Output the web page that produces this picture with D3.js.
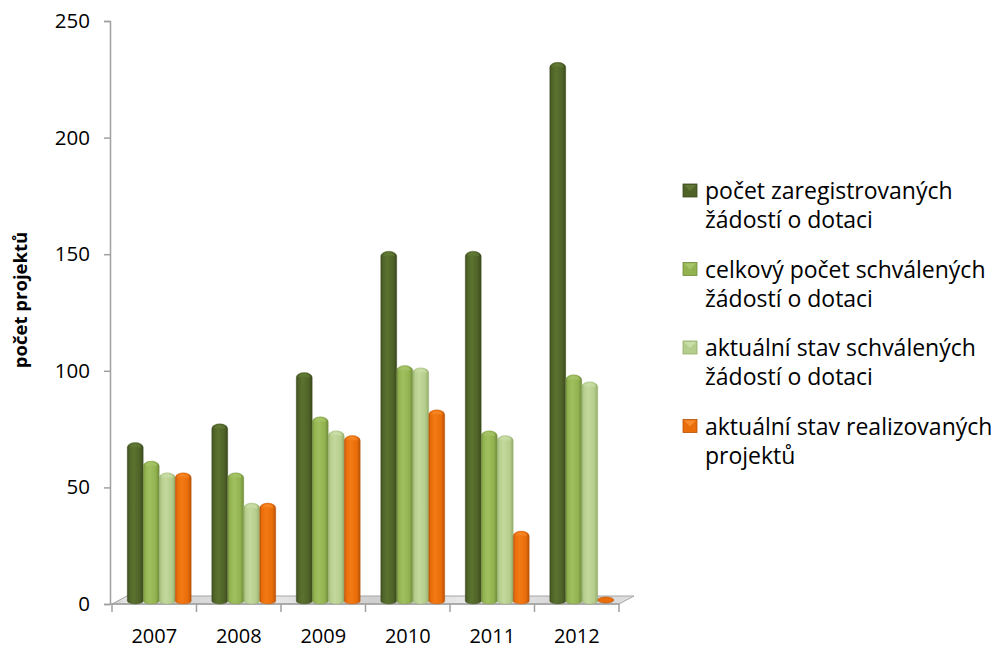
<!DOCTYPE html>
<html lang="cs">
<head>
  <meta charset="utf-8">
  <title>počet projektů</title>
  <style>
  html, body {padding: 0; margin: 0; overflow: hidden; background: #fff}
  text {font-family: "Open Sans", Lato, sans-serif; fill: #000}
</style>
</head>
<body>
  <svg width="1000" height="650"></svg>
  <script src="https://cdn.jsdelivr.net/npm/d3@7/dist/d3.min.js"></script>
  <script>

  var years = ["2007", "2008", "2009", "2010", "2011", "2012"];
  var seriesNames = [
    ["počet zaregistrovaných", "žádostí o dotaci"],
    ["celkový počet schválených", "žádostí o dotaci"],
    ["aktuální stav schválených", "žádostí o dotaci"],
    ["aktuální stav realizovaných", "projektů"]
  ];
  var registered = [68, 76, 98, 150, 150, 231];
  var approvedTotal = [60, 55, 79, 101, 73, 97];
  var approvedNow = [55, 42, 73, 100, 71, 94];
  var realized = [55, 42, 71, 82, 30, 0];
  var yTicks = [0, 50, 100, 150, 200, 250];

  var series = [registered, approvedTotal, approvedNow, realized];
  var colors = [
    {base: "#4f6228", dark: "#3a4a1c", light: "#5a722e", top: "#66803a"},
    {base: "#92b250", dark: "#6f8c38", light: "#a0bf5e", top: "#adc972"},
    {base: "#b5cd8c", dark: "#93ad6a", light: "#c3d89d", top: "#d0e2b0"},
    {base: "#e96d0a", dark: "#b85205", light: "#f27a14", top: "#fb9236"}
  ];

  var svg = d3.select("svg"),
      defs = svg.append("defs");

  var depthX = 15, depthY = 8;

  var y = d3.scaleLinear().domain([0, 250]).range([604, 21]);
  var x0 = d3.scaleBand().domain(years).range([112, 619]);
  var x1 = d3.scaleBand().domain(d3.range(4)).range([0, x0.bandwidth()]).paddingOuter(0.64);

  // gradients for cylinders
  colors.forEach(function(c, i) {
    var g = defs.append("linearGradient").attr("id", "cyl" + i)
      .attr("x1", "0").attr("x2", "1").attr("y1", "0").attr("y2", "0");
    g.append("stop").attr("offset", "0").attr("stop-color", c.dark);
    g.append("stop").attr("offset", "0.12").attr("stop-color", c.base);
    g.append("stop").attr("offset", "0.4").attr("stop-color", c.light);
    g.append("stop").attr("offset", "0.78").attr("stop-color", c.base);
    g.append("stop").attr("offset", "1").attr("stop-color", c.dark);
    var t = defs.append("linearGradient").attr("id", "cap" + i)
      .attr("x1", "0").attr("x2", "0").attr("y1", "0").attr("y2", "1");
    t.append("stop").attr("offset", "0").attr("stop-color", c.top);
    t.append("stop").attr("offset", "1").attr("stop-color", c.light);
  });
  var fg = defs.append("linearGradient").attr("id", "floor")
    .attr("x1", "0").attr("x2", "1").attr("y1", "0").attr("y2", "0");
  [["0", "#c8c8c8"], ["0.04", "#f4f4f4"], ["0.12", "#d2d2d2"], ["0.3", "#e8e8e8"],
   ["0.5", "#cfcfcf"], ["0.7", "#ececec"], ["0.9", "#d0d0d0"], ["1", "#e0e0e0"]].forEach(function(s) {
    fg.append("stop").attr("offset", s[0]).attr("stop-color", s[1]);
  });

  // floor
  var fx0 = x0.range()[0], fx1 = x0.range()[1], fy = y(0);
  svg.append("path")
    .attr("d", "M" + fx0 + "," + fy + "L" + fx1 + "," + fy +
      "L" + (fx1 + depthX) + "," + (fy - depthY) + "L" + (fx0 + depthX) + "," + (fy - depthY) + "Z")
    .attr("fill", "url(#floor)")
    .attr("stroke", "#a6a6a6")
    .attr("stroke-width", 1);

  // y axis
  var yAxis = svg.append("g")
    .attr("transform", "translate(110,0)")
    .call(d3.axisLeft(y).tickValues(yTicks).tickSize(6).tickPadding(14).tickFormat(d3.format("d")));
  yAxis.select(".domain").attr("stroke", "#a0a0a0").attr("stroke-width", 1.5);
  yAxis.selectAll(".tick line").attr("stroke", "#a0a0a0").attr("stroke-width", 1.5);
  yAxis.selectAll(".tick text").style("font-size", "20.5px").attr("font-family", null);

  // x axis line with ticks at category boundaries
  var xg = svg.append("g");
  xg.append("line")
    .attr("x1", 110).attr("x2", fx1)
    .attr("y1", fy).attr("y2", fy)
    .attr("stroke", "#a0a0a0").attr("stroke-width", 1.5);
  xg.selectAll(".bt").data(years.concat(["end"]))
    .enter().append("line")
    .attr("x1", function(d, i) { return fx0 + i * x0.bandwidth(); })
    .attr("x2", function(d, i) { return fx0 + i * x0.bandwidth(); })
    .attr("y1", fy).attr("y2", fy + 8)
    .attr("stroke", "#a0a0a0").attr("stroke-width", 1.5);
  xg.selectAll(".yl").data(years)
    .enter().append("text")
    .attr("x", function(d) { return x0(d) + x0.bandwidth() / 2; })
    .attr("y", 643)
    .attr("text-anchor", "middle")
    .style("font-size", "20px")
    .text(function(d) { return d; });

  // bars (cylinders with rounded top)
  var bw = x1.bandwidth(), ry = 5, shiftX = 5, shiftY = 3;
  var groups = svg.selectAll(".grp").data(years)
    .enter().append("g")
    .attr("transform", function(d) { return "translate(" + (x0(d) + shiftX) + "," + (-shiftY) + ")"; });

  groups.each(function(year, yi) {
    var g = d3.select(this);
    series.forEach(function(vals, si) {
      var v = vals[yi], bx = x1(si), bottom = y(0), top = Math.min(y(v) + ry, bottom - 1);
      var c = colors[si];
      if (v > 0) {
        g.append("path")
          .attr("d", "M" + bx + "," + top + "L" + bx + "," + bottom +
            "A" + (bw / 2) + "," + 3 + " 0 0 0 " + (bx + bw) + "," + bottom +
            "L" + (bx + bw) + "," + top +
            "A" + (bw / 2) + "," + ry + " 0 0 0 " + bx + "," + top + "Z")
          .attr("fill", "url(#cyl" + si + ")")
          .attr("stroke", c.dark).attr("stroke-width", 0.5).attr("stroke-opacity", 0.6);
        g.append("path")
          .attr("d", "M" + (bx + 2) + "," + top +
            "A" + (bw / 2 - 2) + "," + (ry - 1.5) + " 0 0 1 " + (bx + bw - 2) + "," + top + "Z")
          .attr("fill", "url(#cap" + si + ")")
          .attr("opacity", 0.8);
      } else {
        g.append("ellipse")
          .attr("cx", bx + bw / 2).attr("cy", bottom - 1)
          .attr("rx", bw / 2).attr("ry", 3)
          .attr("fill", c.base)
          .attr("stroke", c.dark).attr("stroke-width", 0.6);
      }
    });
  });

  // axis title
  svg.append("text")
    .attr("transform", "translate(27,300) rotate(-90)")
    .attr("text-anchor", "middle")
    .style("font-size", "18.5px")
    .style("font-weight", "bold")
    .text("počet projektů");

  // legend
  var legend = svg.selectAll(".leg").data(seriesNames)
    .enter().append("g")
    .attr("transform", function(d, i) { return "translate(683," + (191 + i * 78.5) + ")"; });
  legend.append("rect")
    .attr("x", 0).attr("y", -7).attr("width", 14).attr("height", 13)
    .attr("fill", function(d, i) { return colors[i].base; })
    .attr("stroke", function(d, i) { return colors[i].dark; })
    .attr("stroke-width", 0.8);
  legend.append("path")
    .attr("d", "M1,-6L13,-6L7,0Z")
    .attr("fill", function(d, i) { return colors[i].top; })
    .attr("opacity", 0.8);
  legend.append("text")
    .attr("x", 22).attr("y", 8)
    .style("font-size", "23px")
    .selectAll("tspan").data(function(d) { return d; })
    .enter().append("tspan")
    .attr("x", 22)
    .attr("dy", function(d, i) { return i ? 29 : 0; })
    .text(function(d) { return d; });

  </script>
</body>
</html>
